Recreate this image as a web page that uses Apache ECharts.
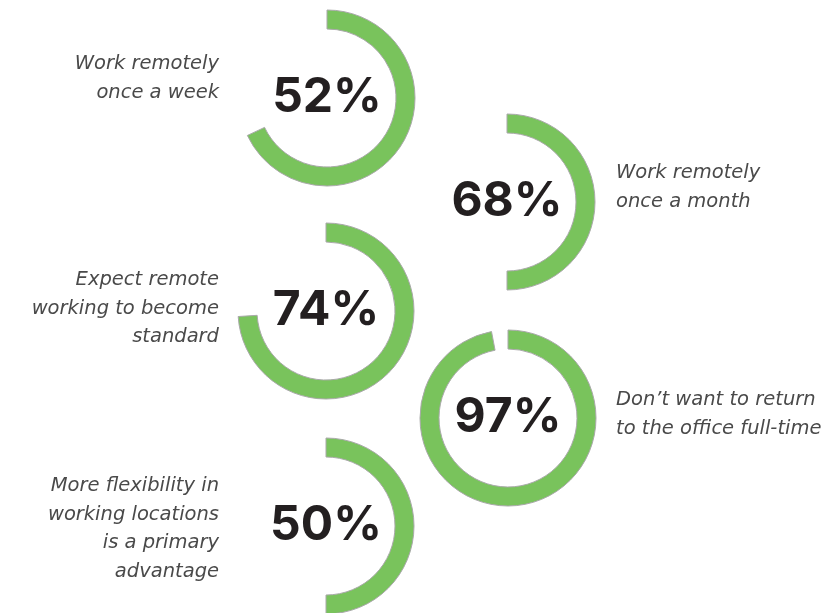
<!DOCTYPE html>
<html>
<head>
<meta charset="utf-8">
<script src="https://cdn.jsdelivr.net/npm/echarts@6/dist/echarts.min.js"></script>
<style>
html,body{margin:0;padding:0;background:#fff;}
#chart{width:833px;height:613px;}
</style>
</head>
<body>
<div id="chart"></div>
<script>
// Data
const statLabels = [
  "Work remotely\nonce a week",
  "Work remotely\nonce a month",
  "Expect remote\nworking to become\nstandard",
  "Don\u2019t want to return\nto the office full-time",
  "More flexibility in\nworking locations\nis a primary\nadvantage"
];
const statValues = [52, 68, 74, 97, 50];     // printed percentages
const arcShares  = [68, 50, 74, 97, 50];     // drawn arc extent as seen in the picture
const labelSides = ["left", "right", "left", "right", "left"];

// Layout (positions only)
const ringCenters = [[327, 98], [507, 202], [326, 311], [508, 418], [326, 526]];
const labelFirstLineY = [64, 173, 280, 400, 486];
const ringRadius = [69, 88];
const green = "#79c35c";
const lh = 28.5;

const chart = echarts.init(document.getElementById('chart'));

const series = statValues.map((v, i) => ({
  type: 'pie',
  center: ringCenters[i],
  radius: ringRadius,
  startAngle: 90,
  clockwise: true,
  silent: true,
  animation: false,
  emphasis: { disabled: true },
  labelLine: { show: false },
  data: [
    {
      value: arcShares[i],
      itemStyle: { color: green, borderColor: '#a9a9a9', borderWidth: 1 },
      label: {
        show: true, position: 'center',
        formatter: () => v + '%',
        fontFamily: 'Inter, Lato, "Noto Sans", sans-serif',
        fontWeight: 'bold', fontSize: 48, color: '#231f20'
      }
    },
    {
      value: 100 - arcShares[i],
      itemStyle: { color: 'rgba(0,0,0,0)', borderWidth: 0 },
      label: { show: false }
    }
  ]
}));

const titles = statLabels.map((t, i) => ({
  text: t,
  left: labelSides[i] === 'left' ? 219 : 616,
  top: labelFirstLineY[i] - lh / 2,
  textAlign: labelSides[i] === 'left' ? 'right' : 'left',
  padding: 0,
  textStyle: {
    fontFamily: '"DejaVu Sans", sans-serif',
    fontStyle: 'italic', fontWeight: 200, fontSize: 19.5,
    lineHeight: lh, color: '#4a4a4a',
    align: labelSides[i] === 'left' ? 'right' : 'left'
  }
}));

chart.setOption({
  animation: false,
  backgroundColor: '#fff',
  title: titles,
  series: series
});
</script>
</body>
</html>
